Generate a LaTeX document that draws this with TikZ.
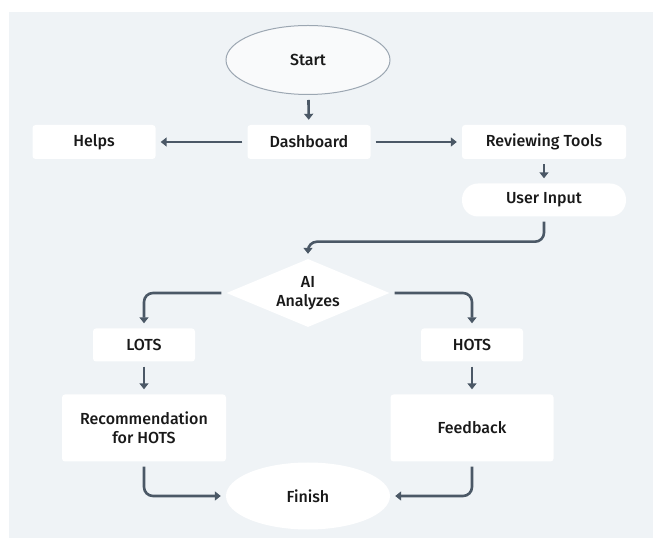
\documentclass[tikz,border=0pt]{standalone}
\usepackage{fontspec}
\setmainfont{Fira Sans}[UprightFont={* Medium}]
\usetikzlibrary{positioning, shapes.geometric, arrows.meta}

\definecolor{panel}{HTML}{EFF3F6}
\definecolor{flow}{HTML}{4B5866}
\definecolor{rim}{HTML}{9CA7B2}

\begin{document}
\begin{tikzpicture}[
    x=1pt, y=1pt,
    every node/.style={font=\fontsize{16}{19}\selectfont, text=black!90},
    card/.style={fill=white, rounded corners=3pt, inner sep=0pt, align=center},
    oval/.style={ellipse, fill=white, inner sep=0pt, minimum width=164pt},
    flowline/.style={draw=flow, line width=2.6pt, rounded corners=9pt,
                     -{Triangle[length=6pt, width=9pt]}, shorten <=5pt, shorten >=5pt},
]

% ── Canvas ───────────────────────────────────────────────────────────────────
\useasboundingbox (0,0) rectangle (653,538);
\fill[panel] (9,0) rectangle (653,526);

% ── Top row ──────────────────────────────────────────────────────────────────
\node[oval, fill=panel!40, draw=rim, line width=1pt, minimum height=69pt] (start) at (308,478) {Start};
\node[card, minimum width=123pt, minimum height=34pt] (dash)   at (309,396) {Dashboard};
\node[card, minimum width=123pt, minimum height=34pt] (helps)  at (94,396)  {Helps};
\node[card, minimum width=164pt, minimum height=34pt] (review) at (544,396) {Reviewing Tools};
\node[card, minimum width=164pt, minimum height=33pt, rounded corners=16pt] (input) at (544,338) {User Input};

% ── Decision ─────────────────────────────────────────────────────────────────
\node[diamond, fill=white, inner sep=0pt, aspect=2.4, minimum width=163pt, minimum height=68pt,
      align=center] (ai) at (308,245) {AI\\Analyzes};

% ── Two branches ─────────────────────────────────────────────────────────────
\node[card, minimum width=102pt, minimum height=33pt] (lots) at (144,193) {LOTS};
\node[card, minimum width=102pt, minimum height=33pt] (hots) at (472,193) {HOTS};
\node[card, minimum width=164pt, minimum height=67pt] (recom) at (144,110) {Recommendation\\for HOTS};
\node[card, minimum width=163pt, minimum height=67pt] (feedb) at (472,110) {Feedback};
\node[oval, minimum height=67pt] (finish) at (308,42) {Finish};

% ── Connectors ───────────────────────────────────────────────────────────────
\draw[flowline] (start) -- (dash);
\draw[flowline] (dash) -- (helps);
\draw[flowline] (dash) -- (review);
\draw[flowline] (review) -- (input);
\draw[flowline] (input.south) -- ++(0,-25) -| (ai.north);
\draw[flowline] (ai.west) -| (lots.north);
\draw[flowline] (ai.east) -| (hots.north);
\draw[flowline] (lots) -- (recom);
\draw[flowline] (hots) -- (feedb);
\draw[flowline] (recom.south) |- (finish.west);
\draw[flowline] (feedb.south) |- (finish.east);

\end{tikzpicture}
\end{document}
